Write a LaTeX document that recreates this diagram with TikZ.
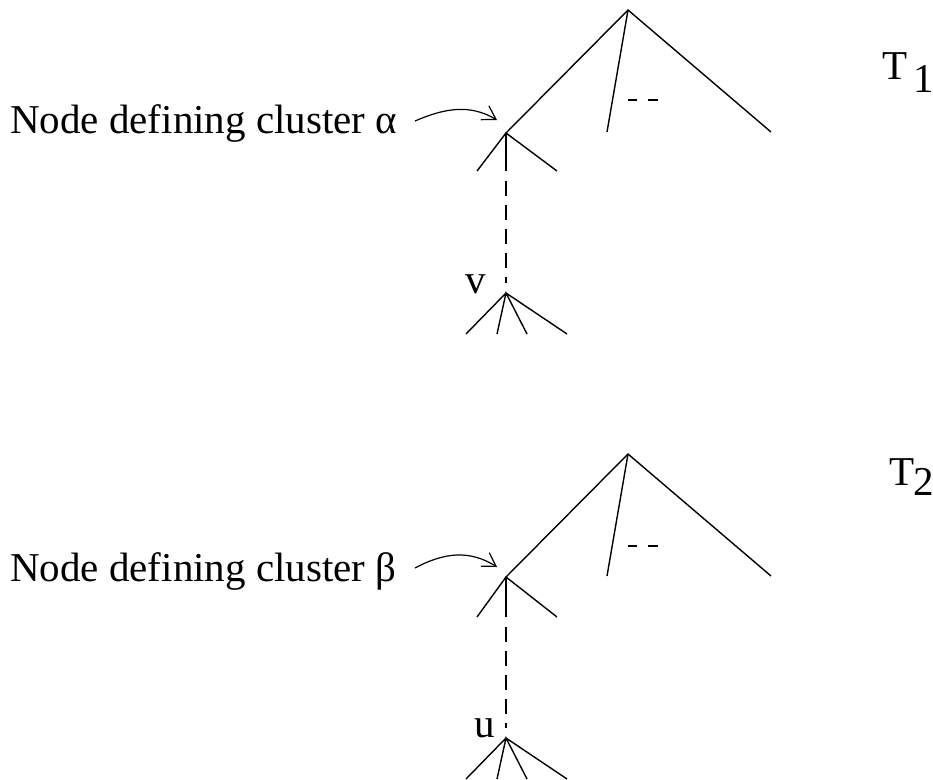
\documentclass[tikz,border=0pt]{standalone}
\usepackage{fontspec}
\setmainfont{Liberation Serif}
\usetikzlibrary{arrows.meta}
\tikzset{
  edge/.style={line width=1.4pt},
  dashline/.style={line width=1.4pt, dash pattern=on 15pt off 9pt},
  lbl/.style={inner sep=0pt, font=\fontsize{41}{45}\selectfont},
  pointer/.style={line width=1.2pt, -{Straight Barb[length=13pt,width=16pt,line width=1.2pt]}}
}
\begin{document}
\begin{tikzpicture}[x=1pt,y=-1pt]
\useasboundingbox (0,0) rectangle (933,779);
% ---------- Tree T1 ----------
\coordinate (r1) at (628,10);
\coordinate (c1) at (506,133);
\coordinate (m1) at (607,132);
\coordinate (e1) at (771,132);
\coordinate (cl1) at (477,171);
\coordinate (cr1) at (557,171);
\coordinate (cm1) at (506,171);
\coordinate (ds1) at (506,181);
\coordinate (d1) at (506,283);
\coordinate (v) at (506,293);
\draw[edge] (c1) -- (r1) -- (e1);
\draw[edge] (r1) -- (m1);
\draw[edge] (cl1) -- (c1) -- (cr1);
\draw[edge] (c1) -- (cm1);
\draw[dashline] (ds1) -- (d1);
\coordinate (dd1a) at (628,100); \coordinate (dd1b) at (637,100);
\coordinate (dd1c) at (648,100); \coordinate (dd1d) at (658,100);
\draw[edge] (dd1a) -- (dd1b) (dd1c) -- (dd1d);
\coordinate (v1) at (466,334); \coordinate (v2) at (497,334);
\coordinate (v3) at (527,334); \coordinate (v4) at (567,334);
\draw[edge] (v1) -- (v) -- (v4) (v2) -- (v) -- (v3);
\node[lbl, anchor=base] (vl) at (476,293) {v};
\node[lbl, anchor=base west] (t1) at (10,133) {Node defining cluster α};
\coordinate (a1s) at (415,121);
\coordinate (a1e) at (497,120);
\draw[pointer] (a1s) .. controls (445,108) and (470,104) .. (a1e);
\node[lbl, anchor=base west] (T1) at (882,79) {T};
\node[lbl, anchor=base west] (T1s) at (913,92) {1};
% ---------- Tree T2 ----------
\coordinate (r2) at (628,454);
\coordinate (c2) at (506,577);
\coordinate (m2) at (607,576);
\coordinate (e2) at (771,576);
\coordinate (cl2) at (477,617);
\coordinate (cr2) at (557,617);
\coordinate (cm2) at (506,617);
\coordinate (ds2) at (506,627);
\coordinate (d2) at (506,728);
\coordinate (u) at (506,738);
\draw[edge] (c2) -- (r2) -- (e2);
\draw[edge] (r2) -- (m2);
\draw[edge] (cl2) -- (c2) -- (cr2);
\draw[edge] (c2) -- (cm2);
\draw[dashline] (ds2) -- (d2);
\coordinate (dd2a) at (628,546); \coordinate (dd2b) at (637,546);
\coordinate (dd2c) at (648,546); \coordinate (dd2d) at (658,546);
\draw[edge] (dd2a) -- (dd2b) (dd2c) -- (dd2d);
\coordinate (u1) at (466,779); \coordinate (u2) at (497,779);
\coordinate (u3) at (527,779); \coordinate (u4) at (567,779);
\draw[edge] (u1) -- (u) -- (u4) (u2) -- (u) -- (u3);
\node[lbl, anchor=base] (ul) at (485,737) {u};
\node[lbl, anchor=base west] (t2) at (10,581) {Node defining cluster β};
\coordinate (a2s) at (415,568);
\coordinate (a2e) at (497,567);
\draw[pointer] (a2s) .. controls (445,552) and (470,550) .. (a2e);
\node[lbl, anchor=base west] (T2) at (889,485) {T};
\node[lbl, anchor=base west] (T2s) at (913,495) {2};
\end{tikzpicture}
\end{document}
